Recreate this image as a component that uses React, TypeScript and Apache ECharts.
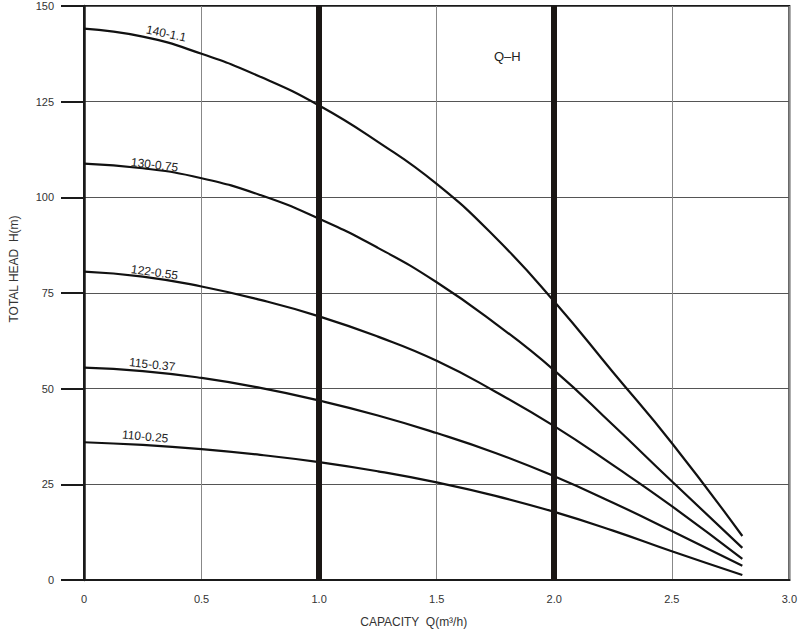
import React, { useEffect, useRef } from "react";
import * as echarts from "echarts";

const capacity = [0, 0.25, 0.5, 0.75, 1.0, 1.25, 1.5, 1.75, 2.0, 2.25, 2.5, 2.8];
const head140 = [144.1, 142, 137.5, 131.5, 124, 114.5, 103.5, 89.5, 72.8, 54.3, 35.8, 11.5];
const head130 = [108.8, 107.6, 105, 100.6, 94.4, 86.8, 77.8, 67, 54.8, 40.5, 25.8, 8.4];
const head122 = [80.6, 79.3, 76.7, 73.2, 68.9, 63.6, 57.3, 49.2, 40.2, 30, 19.3, 5.5];
const head115 = [55.5, 54.6, 52.8, 50.2, 46.9, 43, 38.4, 33.2, 27.1, 20.2, 12.8, 3.7];
const head110 = [36, 35.3, 34.2, 32.7, 30.8, 28.4, 25.5, 22, 17.8, 12.9, 7.5, 1.3];

const seriesNames = ["140-1.1", "130-0.75", "122-0.55", "115-0.37", "110-0.25"];
const seriesValues = [head140, head130, head122, head115, head110];
// label anchor [Q, H] and rotation for each curve name
const labelAnchors = [
  [0.35, 142.8],
  [0.3, 108.5],
  [0.3, 80.4],
  [0.29, 56.3],
  [0.26, 37.5],
];
const labelRotations = [-12, -7, -8, -6, -5];
const thickLinesQ = [1.0, 2.0];
const xTicks = ["0", "0.5", "1.0", "1.5", "2.0", "2.5", "3.0"];

export default function App() {
  const ref = useRef<HTMLDivElement>(null);
  useEffect(() => {
    document.body.style.margin = "0";
    const chart = echarts.init(ref.current!, undefined, { renderer: "svg" });
    const font = "'Liberation Sans', Arial, sans-serif";
    const series: any[] = seriesNames.map((name, i) => ({
      name,
      type: "line",
      smooth: 0.5,
      symbol: "none",
      data: capacity.map((q, j) => [q, seriesValues[i][j]]),
      lineStyle: { color: "#111", width: 2.2 },
      markPoint: {
        symbol: "circle",
        symbolSize: 0,
        data: [
          {
            coord: labelAnchors[i],
            label: {
              show: true,
              formatter: name,
              position: "inside",
              rotate: labelRotations[i],
              color: "#222",
              fontSize: 12,
              fontFamily: font,
            },
          },
        ],
      },
    }));
    series[0].markLine = {
      silent: true,
      symbol: "none",
      label: { show: false },
      lineStyle: { color: "#1a1614", width: 6, type: "solid" },
      data: thickLinesQ.map((q) => ({ xAxis: q })),
    };
    chart.setOption({
      animation: false,
      backgroundColor: "#fff",
      grid: {
        left: 80,
        right: 10,
        top: 6,
        bottom: 54,
        show: true,
        borderColor: "#1a1a1a",
        borderWidth: 2,
      },
      xAxis: {
        type: "value",
        min: 0,
        max: 3,
        interval: 0.5,
        name: "CAPACITY  Q(m³/h)",
        nameLocation: "middle",
        nameGap: 36,
        nameTextStyle: { color: "#333", fontSize: 12, fontFamily: font, padding: [0, 46, 0, 0] },
        axisLine: { lineStyle: { color: "#1a1a1a", width: 2 } },
        axisTick: { show: false },
        axisLabel: {
          color: "#333",
          fontSize: 11,
          fontFamily: font,
          margin: 13,
          formatter: (v: number) => xTicks[Math.round(v / 0.5)],
        },
        splitLine: { show: true, lineStyle: { color: "#888", width: 1 } },
      },
      yAxis: {
        type: "value",
        min: 0,
        max: 150,
        interval: 25,
        name: "TOTAL HEAD  H(m)",
        nameLocation: "middle",
        nameGap: 64,
        nameTextStyle: { color: "#333", fontSize: 12, fontFamily: font, padding: [0, 0, 0, 48] },
        axisLine: { lineStyle: { color: "#1a1a1a", width: 2.5 } },
        axisTick: { show: true, length: 23, lineStyle: { color: "#1a1a1a", width: 2 } },
        axisLabel: { color: "#333", fontSize: 11, fontFamily: font, margin: 30 },
        splitLine: { show: true, lineStyle: { color: "#555", width: 1 } },
      },
      graphic: [
        {
          type: "text",
          left: 494,
          top: 50,
          style: { text: "Q–H", fill: "#222", fontSize: 13, fontFamily: font },
        },
      ],
      series,
    });
    return () => chart.dispose();
  }, []);
  return <div ref={ref} style={{ width: 800, height: 634 }} />;
}
